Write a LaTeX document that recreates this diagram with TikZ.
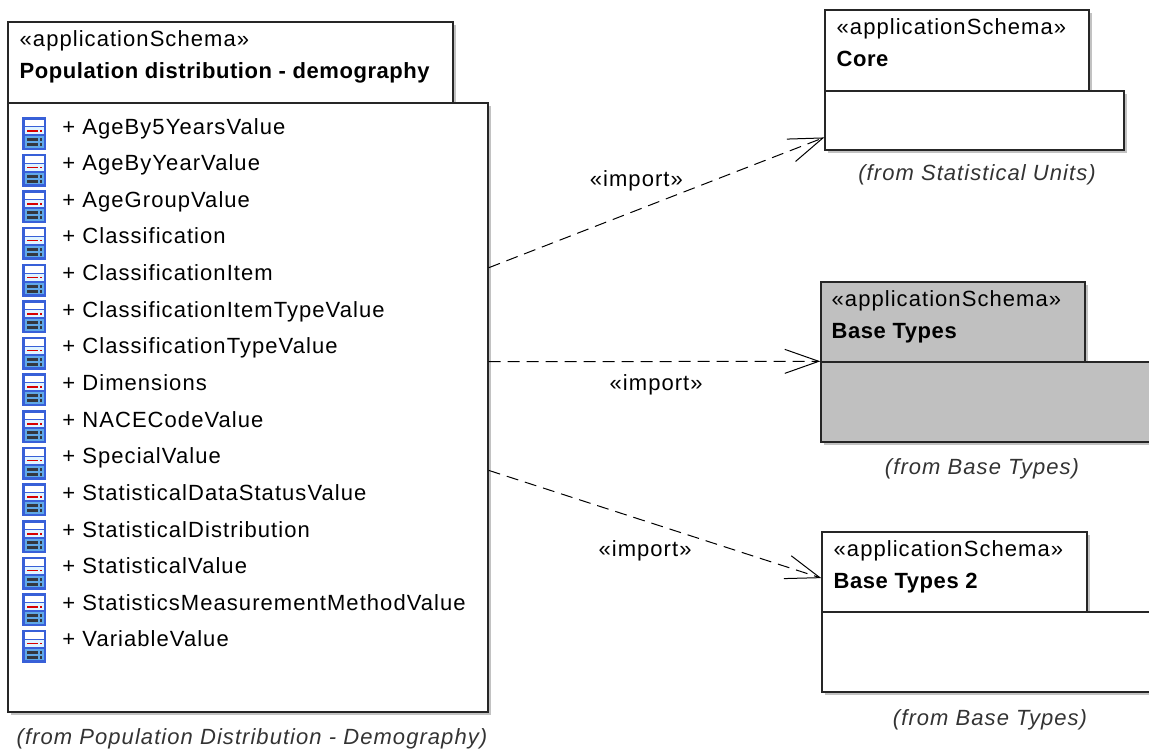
\documentclass[tikz,border=0pt]{standalone}
\usepackage{fontspec}
\setmainfont{Liberation Sans}[LetterSpace=4.8]
\newfontfamily\boldtitle{Liberation Sans}[LetterSpace=2.5]
\usetikzlibrary{calc}
\usetikzlibrary{shadows}
\usetikzlibrary{arrows.meta}
\definecolor{pkggray}{RGB}{192,192,192}
\definecolor{iconblue}{RGB}{56,96,216}
\definecolor{iconcyan}{RGB}{96,168,232}
\definecolor{iconlight}{RGB}{224,244,255}
\definecolor{icondark}{RGB}{52,56,64}
\tikzstyle{pkgpart}=[draw=black!85, fill=white, line width=0.7pt, inner sep=0pt, drop shadow={shadow xshift=1.5pt, shadow yshift=-1.5pt, fill=black!40, opacity=0.6}]
\tikzstyle{greypart}=[pkgpart, fill=pkggray]
\tikzstyle{stereo}=[anchor=base west, inner sep=0pt, font=\fontsize{11}{13}\selectfont]
\tikzstyle{pkgname}=[anchor=base west, inner sep=0pt, font=\fontsize{11}{13}\selectfont\boldtitle\bfseries]
\tikzstyle{fromlabel}=[anchor=base, inner sep=0pt, text=black!80, font=\fontsize{11}{13}\selectfont\itshape]
\tikzstyle{member}=[anchor=base west, inner sep=0pt, font=\fontsize{11}{13}\selectfont]
\tikzstyle{importdep}=[dash pattern=on 6pt off 3.5pt, line width=0.5pt, -{Straight Barb[length=17pt,width=12pt]}]
\tikzstyle{importlabel}=[inner sep=0pt, font=\fontsize{11}{13}\selectfont]
\newcommand{\drawpkgpart}[6][pkgpart]{% Syntax: [style] {name}{left}{top}{right}{bottom}, in pixels
  \pgfmathsetmacro{\pkgw}{(#5-#3)/2}
  \pgfmathsetmacro{\pkgh}{(#6-#4)/2}
  \node[#1, minimum width=\pkgw pt, minimum height=\pkgh pt] (#2) at ({(#3+#5)/2},{(#4+#6)/2}) {};
}
\newcommand{\drawclassicon}[2]{% Syntax: {left}{baseline of the member line}
  \pgfmathsetmacro{\icontop}{#2-17}
  \begin{scope}[shift={(#1,\icontop)}]
    \fill[iconblue] (0,0) rectangle (24,33);
    \fill[white] (2.5,2.5) rectangle (21.5,9);
    \fill[iconlight] (2.5,10) rectangle (21.5,17);
    \fill[red!85!black] (4.5,13) rectangle (15.5,14.5);
    \fill[red!85!black] (17.5,13) rectangle (19.5,14.5);
    \fill[iconcyan] (2.5,19) rectangle (21.5,30.5);
    \fill[icondark] (4.5,21) rectangle (15.5,24);
    \fill[icondark] (4.5,26) rectangle (15.5,29);
    \fill[icondark] (17.5,21) rectangle (19.5,24);
    \fill[icondark] (17.5,26) rectangle (19.5,29);
  \end{scope}
}
\begin{document}
\begin{tikzpicture}[x=0.5pt, y=-0.5pt]
	\clip (0,0) rectangle (1149,751);
	% population distribution package
	\drawpkgpart{maintab}{8}{22}{453}{103}
	\drawpkgpart{mainbody}{8}{103}{488}{712}
	\node[stereo] (mainstereo) at ($(maintab.north west)+(12,25)$) {«applicationSchema»};
	\node[pkgname] (mainname) at ($(maintab.north west)+(12,57)$) {Population distribution - demography};
	\foreach \cls [count=\i from 0] in {AgeBy5YearsValue, AgeByYearValue, AgeGroupValue, Classification, ClassificationItem, ClassificationItemTypeValue, ClassificationTypeValue, Dimensions, NACECodeValue, SpecialValue, StatisticalDataStatusValue, StatisticalDistribution, StatisticalValue, StatisticsMeasurementMethodValue, VariableValue} {
		\pgfmathsetmacro{\ybase}{134+36.64*\i}
		\drawclassicon{22}{\ybase}
		\node[member] (member\i) at (62,\ybase) {+ \cls};
	}
	\node[fromlabel] (mainfrom) at (252,744) {(from Population Distribution - Demography)};
	% core package
	\drawpkgpart{coretab}{825}{10}{1089}{91}
	\drawpkgpart{corebody}{825}{91}{1124}{150}
	\node[stereo] (corestereo) at ($(coretab.north west)+(12,25)$) {«applicationSchema»};
	\node[pkgname] (corename) at ($(coretab.north west)+(12,57)$) {Core};
	\node[fromlabel] (corefrom) at (977,180) {(from Statistical Units)};
	% base types package
	\drawpkgpart[greypart]{basetab}{821}{282}{1085}{362}
	\drawpkgpart[greypart]{basebody}{821}{362}{1160}{442}
	\node[stereo] (basestereo) at ($(basetab.north west)+(11,25)$) {«applicationSchema»};
	\node[pkgname] (basename) at ($(basetab.north west)+(11,57)$) {Base Types};
	\node[fromlabel] (basefrom) at (982,474) {(from Base Types)};
	% base types 2 package
	\drawpkgpart{basetwotab}{822}{532}{1087}{612}
	\drawpkgpart{basetwobody}{822}{612}{1160}{692}
	\node[stereo] (basetwostereo) at ($(basetwotab.north west)+(12,25)$) {«applicationSchema»};
	\node[pkgname] (basetwoname) at ($(basetwotab.north west)+(12,57)$) {Base Types 2};
	\node[fromlabel] (basetwofrom) at (990,725) {(from Base Types)};
	% imports
	\draw[importdep] ($(mainbody.north east)!0.271!(mainbody.south east)$) -- ($(corebody.north west)!0.78!(corebody.south west)$) node[importlabel, pos=0.44, yshift=15pt] (importcore) {«import»};
	\draw[importdep] ($(mainbody.north east)!0.425!(mainbody.south east)$) -- (basebody.north west) node[importlabel, pos=0.505, yshift=-11.5pt] (importbase) {«import»};
	\draw[importdep] ($(mainbody.north east)!0.603!(mainbody.south east)$) -- ($(basetwotab.north west)!0.575!(basetwotab.south west)$) node[importlabel, pos=0.47, yshift=-15pt] (importbasetwo) {«import»};
\end{tikzpicture}
\end{document}
